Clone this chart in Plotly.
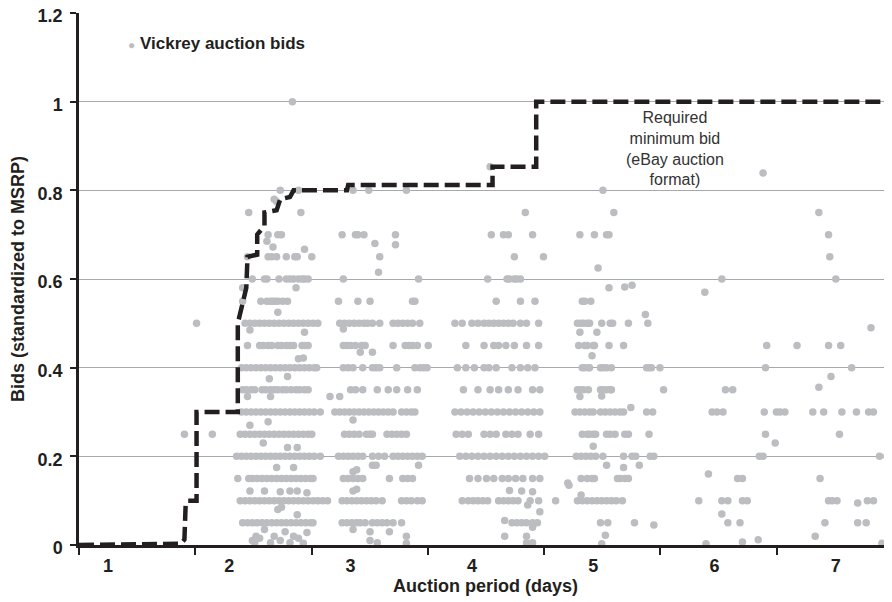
import plotly.graph_objects as go

# ---------------- data (days, bids standardized to MSRP) ----------------
r080 = [2.42, 2.57, 3.02, 3.15, 3.46, 5.08]
r075 = [2.16, 2.59, 4.44, 5.17, 6.86]
r070 = [2.32, 2.40, 2.43, 2.93, 3.04, 3.06, 3.11, 3.37, 4.16, 4.26, 4.30, 4.50, 4.89, 5.01, 5.11, 5.13, 6.94]
r065 = [2.15, 2.32, 2.35, 2.39, 2.47, 2.54, 2.56, 2.68, 3.24, 4.35, 4.59, 6.95]
r060 = [2.19, 2.29, 2.31, 2.41, 2.47, 2.50, 2.53, 2.57, 2.60, 2.62, 2.65, 2.94, 3.56, 4.13, 4.29, 4.31, 4.35,
        4.37, 4.40, 6.06, 7.00]
r055 = [2.11, 2.26, 2.31, 2.34, 2.36, 2.38, 2.40, 2.44, 2.48, 2.90, 3.06, 3.16, 3.51, 3.53, 4.20, 4.40, 4.52,
        4.91, 4.93, 4.98]
r050 = [1.73, 2.13, 2.17, 2.21, 2.25, 2.29, 2.33, 2.37, 2.41, 2.45, 2.49, 2.53, 2.57, 2.61, 2.65, 2.69, 2.73,
        2.91, 2.95, 2.99, 3.03, 3.07, 3.11, 3.14, 3.18, 3.24, 3.35, 3.39, 3.43, 3.47, 3.51, 3.57,
        3.86, 3.92, 4.00, 4.05, 4.10, 4.14, 4.18, 4.22, 4.26, 4.30, 4.34, 4.40, 4.45, 4.55,
        4.87, 4.90, 4.92, 4.95, 4.97, 5.07, 5.14, 5.16, 5.29, 5.45]
r045 = [2.15, 2.25, 2.28, 2.32, 2.35, 2.40, 2.43, 2.47, 2.50, 2.53, 2.60, 2.62, 2.65,
        2.94, 2.97, 3.00, 3.04, 3.09, 3.12, 3.35, 3.45, 3.48, 3.51, 3.55, 3.64,
        3.95, 4.10, 4.18, 4.22, 4.28, 4.35, 4.45, 4.55,
        4.88, 4.93, 4.95, 5.00, 5.01, 5.13, 5.25, 6.43, 6.68, 6.94, 7.04]
r040 = [2.10, 2.14, 2.18, 2.22, 2.26, 2.30, 2.34, 2.38, 2.42, 2.46, 2.50, 2.54, 2.58, 2.62, 2.66, 2.70, 2.72,
        2.94, 2.98, 3.02, 3.10, 3.18, 3.21, 3.24, 3.38, 3.53, 3.57, 3.60, 3.63,
        3.88, 3.95, 4.02, 4.10, 4.14, 4.20, 4.33, 4.40, 4.46, 4.52,
        4.91, 4.93, 4.96, 4.97, 5.06, 5.08, 5.11, 5.15, 5.44, 5.46, 5.48, 5.55, 6.42, 7.13]
r035 = [2.11, 2.14, 2.18, 2.21, 2.27, 2.30, 2.34, 2.37, 2.40, 2.44, 2.47, 2.51, 2.55, 2.58, 2.62, 2.65,
        3.00, 3.04, 3.10, 3.22, 3.31, 3.38, 3.47, 3.55,
        3.93, 4.05, 4.15, 4.22, 4.30, 4.38, 4.50, 4.56,
        4.87, 4.89, 4.92, 4.96, 5.06, 5.08, 5.11, 5.14, 5.15, 5.58, 6.09, 6.15]
r030 = [2.10, 2.14, 2.18, 2.22, 2.26, 2.30, 2.34, 2.38, 2.42, 2.46, 2.50, 2.54, 2.58, 2.62, 2.66, 2.70, 2.75,
        2.87, 2.91, 2.95, 2.99, 3.03, 3.07, 3.11, 3.15, 3.19, 3.23, 3.27, 3.31, 3.35, 3.42, 3.46, 3.50, 3.53,
        3.86, 3.91, 3.96, 4.01, 4.06, 4.11, 4.16, 4.21, 4.26, 4.31, 4.36, 4.41, 4.46, 4.51, 4.56,
        4.85, 4.89, 4.93, 4.97, 5.00, 5.06, 5.10, 5.14, 5.18, 5.22, 5.25, 5.44, 5.49,
        5.98, 6.02, 6.07, 6.41, 6.51, 6.54, 6.58, 6.81, 6.90, 7.05, 7.17, 7.27, 7.31, 7.44]
r025 = [1.63, 1.86, 2.09, 2.13, 2.17, 2.21, 2.25, 2.29, 2.33, 2.37, 2.41, 2.45, 2.49, 2.53, 2.57, 2.61, 2.65, 2.68,
        2.95, 2.99, 3.03, 3.07, 3.13, 3.16, 3.18, 3.30, 3.34, 3.38, 3.42, 3.46,
        3.87, 3.92, 3.97, 4.10, 4.15, 4.20, 4.28, 4.33, 4.38, 4.48, 4.55,
        4.91, 4.95, 4.97, 5.00, 5.02, 5.11, 5.14, 5.18, 5.26, 5.29, 5.46, 6.42, 7.03]
r020 = [2.06, 2.10, 2.14, 2.18, 2.22, 2.26, 2.30, 2.34, 2.38, 2.42, 2.46, 2.50, 2.54, 2.58, 2.62, 2.66, 2.70, 2.75,
        2.90, 2.94, 2.98, 3.02, 3.06, 3.10, 3.18, 3.23, 3.28, 3.35, 3.39, 3.43, 3.47, 3.51, 3.55, 3.59,
        3.90, 3.95, 4.00, 4.05, 4.10, 4.15, 4.20, 4.25, 4.30, 4.35, 4.40, 4.45, 4.50, 4.55, 4.60,
        4.86, 4.90, 4.94, 4.98, 5.02, 5.08, 5.25, 5.32, 5.35, 5.47, 5.50, 6.37, 6.40, 7.36, 7.42]
r015 = [2.07, 2.16, 2.19, 2.23, 2.27, 2.31, 2.35, 2.39, 2.43, 2.47, 2.51, 2.55, 2.59, 2.63, 2.67, 2.69,
        2.94, 2.98, 3.02, 3.06, 3.10, 3.32, 3.43, 3.47, 3.51,
        3.98, 4.05, 4.12, 4.18, 4.25, 4.30, 4.36, 4.42, 4.50, 4.56,
        4.90, 4.95, 4.99, 5.01, 5.20, 5.22, 5.26, 5.29, 6.19, 6.23, 6.87]
r010 = [2.09, 2.13, 2.17, 2.21, 2.25, 2.29, 2.33, 2.37, 2.41, 2.45, 2.49, 2.53, 2.57, 2.61, 2.65, 2.69, 2.73, 2.77,
        2.81, 2.93, 2.97, 3.01, 3.05, 3.09, 3.13, 3.17, 3.21, 3.26, 3.42, 3.46, 3.50, 3.55, 3.59,
        3.92, 3.97, 4.01, 4.05, 4.09, 4.13, 4.22, 4.26, 4.30, 4.34, 4.38, 4.48, 4.55,
        4.69, 4.87, 4.91, 4.95, 4.99, 5.03, 5.07, 5.11, 5.15, 5.19, 5.24,
        5.87, 6.06, 6.11, 6.23, 6.27, 6.94, 6.97, 7.01, 7.26, 7.31, 7.43]
r005 = [2.11, 2.15, 2.19, 2.23, 2.27, 2.31, 2.35, 2.39, 2.43, 2.47, 2.51, 2.55, 2.59, 2.63, 2.67, 2.69,
        2.93, 2.97, 3.01, 3.05, 3.08, 3.12, 3.18, 3.22, 3.26, 3.30, 3.35, 3.42,
        4.33, 4.37, 4.41, 4.45, 4.50, 4.54, 5.06, 5.12, 5.34, 6.11, 6.21, 6.91, 7.18, 7.25]

row_bids = [0.80, 0.75, 0.70, 0.65, 0.60, 0.55, 0.50, 0.45, 0.40, 0.35, 0.30, 0.25, 0.20, 0.15, 0.10, 0.05]
row_days = [r080, r075, r070, r065, r060, r055, r050, r045, r040, r035, r030, r025, r020, r015, r010, r005]

other_days = [2.52, 4.15, 6.40, 2.37, 2.39, 2.31, 3.37, 3.20, 2.62, 2.36, 3.23, 5.04, 2.55, 2.11, 5.13, 5.26,
              5.32, 5.92, 5.43, 2.40, 2.17, 2.62, 2.94, 4.89, 5.03, 7.29, 4.99, 3.08, 3.18, 2.57, 2.61, 2.33,
              2.48, 6.96, 6.86, 2.15, 2.34, 2.83, 2.91, 4.89, 5.07, 3.02, 5.31, 2.17, 2.32, 2.28, 2.48, 2.56,
              6.50, 2.39, 2.53, 3.18, 3.21, 3.56, 5.11, 5.25, 5.38, 5.00, 4.80, 5.95, 3.02, 3.05, 2.17, 2.29,
              2.42, 2.50, 2.56, 2.64, 3.02, 3.05, 4.31, 4.41, 4.50, 4.79, 4.90, 4.56, 4.46, 6.06, 7.18, 2.40,
              2.43, 2.56, 4.27, 4.50, 5.50,
              2.19, 2.21, 2.22, 2.25, 2.29, 2.34, 2.37, 2.42, 2.46, 2.50, 2.53, 2.57, 2.61, 2.64, 3.02, 3.16,
              3.32, 3.16, 3.22, 3.46, 3.46, 4.27, 4.45, 4.45, 4.50, 5.07, 5.10, 5.93, 6.23, 6.36, 6.83, 7.38]
other_bids = [1.00, 0.853, 0.839, 0.78, 0.775, 0.685, 0.677, 0.68, 0.667, 0.672, 0.615, 0.625, 0.58, 0.58, 0.58,
              0.582, 0.586, 0.57, 0.52, 0.525, 0.485, 0.48, 0.487, 0.48, 0.48, 0.49, 0.427, 0.435, 0.435, 0.42,
              0.422, 0.375, 0.38, 0.38, 0.356, 0.335, 0.335, 0.335, 0.335, 0.335, 0.336, 0.282, 0.31, 0.27,
              0.278, 0.23, 0.22, 0.22, 0.23, 0.175, 0.175, 0.18, 0.18, 0.18, 0.18, 0.175, 0.18, 0.223, 0.135,
              0.16, 0.165, 0.17, 0.122, 0.122, 0.12, 0.122, 0.122, 0.118, 0.122, 0.126, 0.123, 0.122, 0.12,
              0.14, 0.113, 0.075, 0.09, 0.07, 0.095, 0.08, 0.085, 0.068, 0.055, 0.04, 0.045,
              0.01, 0.005, 0.02, 0.015, 0.035, 0.005, 0.02, 0.01, 0.03, 0.005, 0.02, 0.015, 0.004, 0.028,
              0.035, 0.03, 0.03, 0.01, 0.005, 0.02, 0.004, 0.02, 0.02, 0.005, 0.005, 0.003, 0.022, 0.003,
              0.007, 0.012, 0.02, 0.004]

# Required minimum bid (eBay auction format) - dashed path
step_days = [0.761, 1.60, 1.63, 1.64, 1.66, 1.73, 1.73, 2.07, 2.07, 2.11, 2.14, 2.15, 2.23, 2.23, 2.29, 2.29,
             2.39, 2.42, 2.50, 2.53, 2.97, 2.98, 4.17, 4.17, 4.53, 4.53, 7.47]
step_bids = [0.0, 0.003, 0.012, 0.09, 0.1, 0.1, 0.3, 0.3, 0.5, 0.55, 0.58, 0.65, 0.655, 0.70, 0.72, 0.75,
             0.755, 0.78, 0.785, 0.80, 0.80, 0.812, 0.812, 0.853, 0.853, 1.0, 1.0]

day_ticks = [1, 2, 3, 4, 5, 6, 7]
bid_ticks = [0, 0.2, 0.4, 0.6, 0.8, 1, 1.2]
bid_labels = ["0", "0.2", "0.4", "0.6", "0.8", "1", "1.2"]
x_range = [0.761, 7.463]
y_range = [0, 1.2]

# ---------------- build ----------------
xs, ys = [], []
for b, days in zip(row_bids, row_days):
    xs += days
    ys += [b] * len(days)
xs += other_days
ys += other_bids

FONT = "Liberation Sans, Arial, Helvetica, sans-serif"
INK = "#231f20"
DOT = "#bcbdc0"

fig = go.Figure()
fig.add_trace(go.Scatter(
    x=xs, y=ys, mode="markers", name="Vickrey auction bids",
    marker=dict(color=DOT, size=7.5, line=dict(width=0)),
    cliponaxis=False, showlegend=False))
fig.add_trace(go.Scatter(
    x=step_days, y=step_bids, mode="lines", name="Required minimum bid",
    line=dict(color=INK, width=4.5, dash="15px,6px"),
    showlegend=False))

fig.add_annotation(
    xref="paper", yref="paper", x=0.058, y=0.942, xanchor="left", yanchor="middle",
    text=f'<span style="color:{DOT};font-size:12px">●</span> <b>Vickrey auction bids</b>',
    showarrow=False, font=dict(family=FONT, size=17, color=INK))
fig.add_annotation(
    x=5.67, y=0.895, xanchor="center", yanchor="middle",
    text="Required<br>minimum bid<br>(eBay auction<br>format)",
    showarrow=False, font=dict(family=FONT, size=16, color="#333333"))

# the page adds an 8px body margin, so the figure is laid out 8px up/left
fig.update_layout(
    width=884, height=594,
    margin=dict(l=71, r=0, t=5, b=57),
    paper_bgcolor="white", plot_bgcolor="white",
    font=dict(family=FONT, color=INK),
    xaxis=dict(
        range=x_range, tickvals=day_ticks, ticktext=[str(d) for d in day_ticks],
        ticks="", showgrid=False, zeroline=False, automargin=False,
        showline=True, linecolor=INK, linewidth=2.5, ticklabeloverflow="allow",
        tickfont=dict(family=FONT, size=18, color=INK, weight="bold"),
        ticklabelstandoff=3,
        minor=dict(ticks="outside", tick0=0.761, dtick=0.9587, ticklen=7, tickwidth=2,
                   tickcolor=INK, showgrid=False),
        title=dict(text="Auction period (days)", standoff=3,
                   font=dict(family=FONT, size=18, color=INK, weight="bold")),
    ),
    yaxis=dict(
        range=y_range, tickvals=bid_ticks, ticktext=bid_labels, automargin=False,
        ticks="outside", ticklen=6, tickwidth=2, tickcolor=INK, ticklabeloverflow="allow",
        showgrid=True, gridcolor="#a7a9ac", gridwidth=1, zeroline=False,
        showline=True, linecolor=INK, linewidth=2.5,
        tickfont=dict(family=FONT, size=18, color=INK, weight="bold"),
        ticklabelstandoff=4, ticklabelshift=3,
        title=dict(text="Bids (standardized to MSRP)", standoff=12,
                   font=dict(family=FONT, size=18, color=INK, weight="bold")),
    ),
)

fig.write_html("out.html")
